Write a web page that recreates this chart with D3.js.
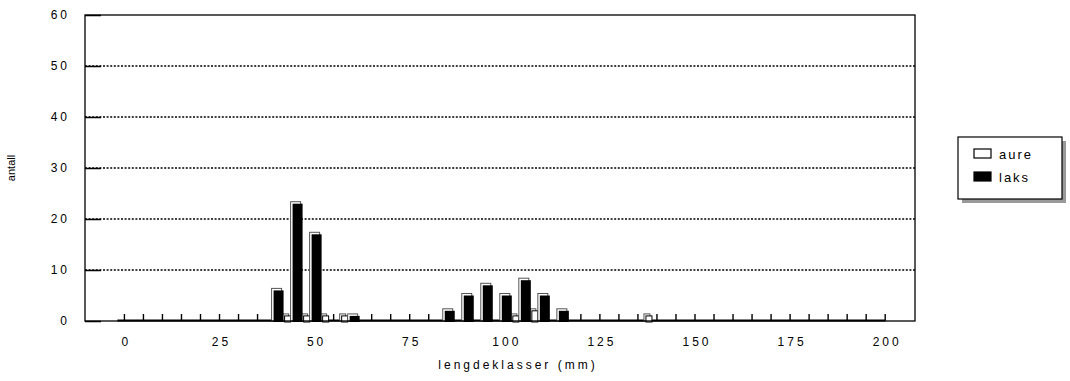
<!DOCTYPE html>
<html>
<head>
<meta charset="utf-8">
<script src="https://cdn.jsdelivr.net/npm/d3@7"></script>
<style>
  body { margin: 0; background: #fff; }
  text { font-family: "Liberation Sans", Arial, sans-serif; fill: #000; }
</style>
</head>
<body>
<div class="chart"></div>
<script>
const lengthClasses = [0, 5, 10, 15, 20, 25, 30, 35, 40, 45, 50, 55, 60, 65, 70, 75, 80, 85, 90, 95,
  100, 105, 110, 115, 120, 125, 130, 135, 140, 145, 150, 155, 160, 165, 170, 175, 180, 185, 190, 195, 200]
const aure = [0, 0, 0, 0, 0, 0, 0, 0, 0, 1, 1, 1, 1, 0, 0, 0, 0, 0, 0, 0,
  0, 1, 2, 0, 0, 0, 0, 0, 1, 0, 0, 0, 0, 0, 0, 0, 0, 0, 0, 0, 0]
const laks = [0, 0, 0, 0, 0, 0, 0, 0, 6, 23, 17, 0, 1, 0, 0, 0, 0, 2, 5, 7,
  5, 8, 5, 2, 0, 0, 0, 0, 0, 0, 0, 0, 0, 0, 0, 0, 0, 0, 0, 0, 0]
const xTicks = [0, 25, 50, 75, 100, 125, 150, 175, 200]
const yTicks = [0, 10, 20, 30, 40, 50, 60]

const width = 1070
const height = 381
const margin = {top: 15, right: 155, bottom: 60, left: 85}
const plotW = width - margin.left - margin.right
const plotH = height - margin.top - margin.bottom

const xScale = d3.scaleLinear().domain([-10.1, 208.1]).range([0, plotW])
const yScale = d3.scaleLinear().domain([0, 60]).range([plotH, 0])

const svg = d3.select('.chart').append('svg')
  .attr('width', width)
  .attr('height', height)

const g = svg.append('g')
  .attr('transform', 'translate(' + margin.left + ',' + margin.top + ')')

// grid
g.append('g')
  .selectAll('line')
  .data(yTicks.filter(d => d > 0 && d < 60))
  .enter().append('line')
  .attr('x1', 0).attr('x2', plotW)
  .attr('y1', d => yScale(d)).attr('y2', d => yScale(d))
  .attr('stroke', '#000')
  .attr('stroke-width', 1.6)
  .attr('stroke-dasharray', '2,1.6')

// y axis: short ticks pointing inward, spaced labels
g.append('g')
  .call(d3.axisRight(yScale).tickValues(yTicks).tickSize(16).tickFormat(''))
  .call(s => s.select('.domain').remove())
  .selectAll('line').attr('stroke-width', 1.5)

g.append('g')
  .selectAll('text')
  .data(yTicks)
  .enter().append('text')
  .attr('x', -15)
  .attr('y', d => yScale(d))
  .attr('dy', '0.35em')
  .attr('text-anchor', 'end')
  .attr('font-size', 12)
  .attr('letter-spacing', 3)
  .text(d => d)

// category ticks on the base line
g.append('g')
  .selectAll('line')
  .data(lengthClasses)
  .enter().append('line')
  .attr('x1', d => xScale(d) + 1).attr('x2', d => xScale(d) + 1)
  .attr('y1', plotH).attr('y2', plotH - 7)
  .attr('stroke', '#000')
  .attr('stroke-width', 1.4)

g.append('line')
  .attr('x1', xScale(0) - 6).attr('x2', xScale(200) + 1)
  .attr('y1', plotH - 0.5).attr('y2', plotH - 0.5)
  .attr('stroke', '#000')
  .attr('stroke-width', 2)

// bars with a small 3D offset
function drawBars (values, dx, w, fill, cls) {
  const items = lengthClasses.map((c, i) => ({c, v: values[i]})).filter(d => d.v > 0)
  const grp = g.append('g').attr('class', cls)
  grp.selectAll('.back')
    .data(items)
    .enter().append('rect')
    .attr('class', 'back')
    .attr('x', d => xScale(d.c) + dx - 2)
    .attr('y', d => yScale(d.v) - 2)
    .attr('width', w)
    .attr('height', d => plotH - yScale(d.v) + 2)
    .attr('fill', '#fff')
    .attr('stroke', '#555')
    .attr('stroke-width', 1)
  grp.selectAll('.front')
    .data(items)
    .enter().append('rect')
    .attr('class', 'front')
    .attr('x', d => xScale(d.c) + dx)
    .attr('y', d => yScale(d.v))
    .attr('width', w)
    .attr('height', d => plotH - yScale(d.v) + 1)
    .attr('fill', fill)
    .attr('stroke', fill === '#000' ? 'none' : '#000')
    .attr('stroke-width', 1)
}
drawBars(aure, -10, 6, '#fff', 'aure')
drawBars(laks, -2, 10, '#000', 'laks')

// x axis labels
g.append('g')
  .selectAll('text')
  .data(xTicks)
  .enter().append('text')
  .attr('x', d => xScale(d) + 3)
  .attr('y', plotH + 25)
  .attr('text-anchor', 'middle')
  .attr('font-size', 12)
  .attr('letter-spacing', 3)
  .text(d => d)

// frame
g.append('rect')
  .attr('x', 0).attr('y', 0)
  .attr('width', plotW).attr('height', plotH)
  .attr('fill', 'none')
  .attr('stroke', '#000')
  .attr('stroke-width', 1.3)

// titles
svg.append('text')
  .attr('x', 518)
  .attr('y', 369)
  .attr('text-anchor', 'middle')
  .attr('font-size', 12)
  .attr('letter-spacing', 3)
  .text('lengdeklasser (mm)')

svg.append('text')
  .attr('transform', 'translate(15,' + (margin.top + plotH / 2) + ') rotate(-90)')
  .attr('text-anchor', 'middle')
  .attr('font-size', 11)
  .text('antall')

// legend
const legend = svg.append('g').attr('transform', 'translate(958,137)')
legend.append('rect')
  .attr('x', 4).attr('y', 4).attr('width', 104).attr('height', 62)
  .attr('fill', '#999')
legend.append('rect')
  .attr('x', 0).attr('y', 0).attr('width', 104).attr('height', 62)
  .attr('fill', '#fff').attr('stroke', '#000').attr('stroke-width', 1.2)

const legendItems = [{name: 'aure', fill: '#fff'}, {name: 'laks', fill: '#000'}]
const li = legend.selectAll('.item')
  .data(legendItems)
  .enter().append('g')
  .attr('transform', (d, i) => 'translate(16,' + (12 + i * 23) + ')')
li.append('rect')
  .attr('x', 0).attr('y', 0).attr('width', 17).attr('height', 9)
  .attr('fill', d => d.fill).attr('stroke', '#000').attr('stroke-width', 1.2)
li.append('text')
  .attr('x', 25).attr('y', 5)
  .attr('dy', '0.35em')
  .attr('font-size', 13)
  .attr('letter-spacing', 2)
  .text(d => d.name)
</script>
</body>
</html>
